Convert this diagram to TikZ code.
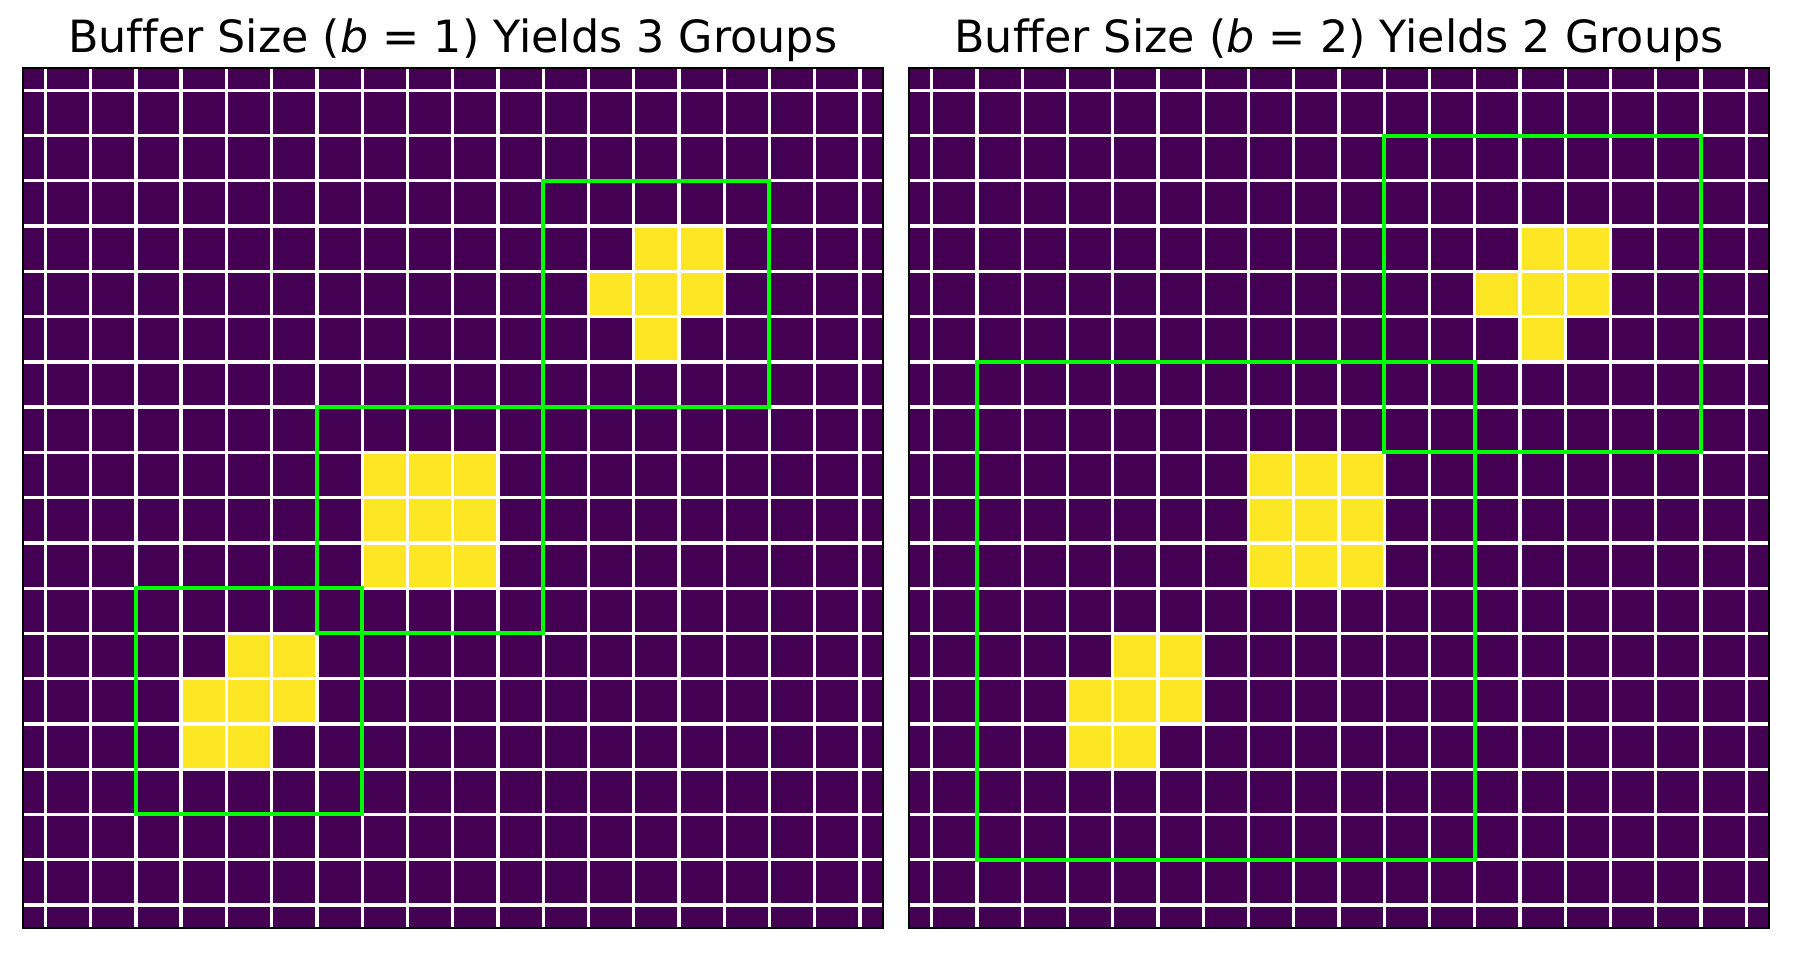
\documentclass[tikz,border=0pt]{standalone}
\usepackage{fontspec}
\setmainfont{DejaVu Sans}[Ligatures={NoCommon}]
\usetikzlibrary{positioning}
\definecolor{vdark}{HTML}{440154}
\definecolor{vyellow}{HTML}{FDE725}
\definecolor{boxgreen}{HTML}{00FF00}

\begin{document}
\begin{tikzpicture}[x=0.5pt, y=0.5pt, font=\fontsize{22.2}{26}\selectfont,
  cell/.style={fill=vyellow},
  gridline/.style={draw=white, line width=1.65pt},
  groupbox/.style={draw=boxgreen, line width=2pt},
  frame/.style={draw=black, line width=1pt},
  panel/.style={shift={(#1,897.3)}, x=22.63pt, y=-22.63pt}]
  \useasboundingbox (0,0) rectangle (1800,965);
  % both panels: same image, grid and frame
  \foreach \px/\bsize/\ngroups [count=\i] in {22.7/1/3, 909/2/2} {
    \begin{scope}[panel=\px]
      \fill[vdark] (0,0) rectangle (19,19);
      \foreach \u/\v in {13.5/3.5, 14.5/3.5, 12.5/4.5, 13.5/4.5, 14.5/4.5, 13.5/5.5,
                         7.5/8.5, 8.5/8.5, 9.5/8.5, 7.5/9.5, 8.5/9.5, 9.5/9.5, 7.5/10.5, 8.5/10.5, 9.5/10.5,
                         4.5/12.5, 5.5/12.5, 3.5/13.5, 4.5/13.5, 5.5/13.5, 3.5/14.5, 4.5/14.5}
        \fill[cell] (\u,\v) rectangle ++(1,1);
      \foreach \k in {0,...,18} {
        \draw[gridline] (\k+0.5,0) -- (\k+0.5,19);
        \draw[gridline] (0,\k+0.5) -- (19,\k+0.5);
      }
      \node[anchor=base] (title\i) at (9.5,-0.34) {Buffer Size (\textit{b} = \bsize) Yields \ngroups\ Groups};
    \end{scope}
  }
  % groups, b = 1
  \begin{scope}[panel=22.7]
    \draw[groupbox] (11.5,2.5) rectangle (16.5,7.5);
    \draw[groupbox] (6.5,7.5) rectangle (11.5,12.5);
    \draw[groupbox] (2.5,11.5) rectangle (7.5,16.5);
    \draw[frame] (0,0) rectangle (19,19);
  \end{scope}
  % groups, b = 2
  \begin{scope}[panel=909]
    \draw[groupbox] (10.5,1.5) rectangle (17.5,8.5);
    \draw[groupbox] (1.5,6.5) rectangle (12.5,17.5);
    \draw[frame] (0,0) rectangle (19,19);
  \end{scope}
\end{tikzpicture}
\end{document}
